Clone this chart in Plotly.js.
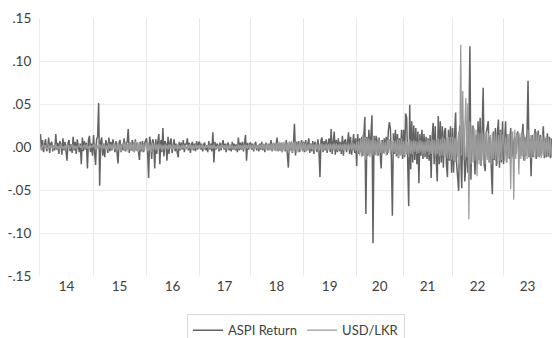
<!DOCTYPE html>
<html>
<head>
<meta charset="utf-8">
<script src="https://cdn.plot.ly/plotly-3.0.1.min.js"></script>
<style>html,body{margin:0;padding:0;background:#fff;}#chart{width:552px;height:338px;}</style>
</head>
<body>
<div id="chart"></div>
<script>
// Year tick labels
const yearLabels = ["14","15","16","17","18","19","20","21","22","23"];

const aspi14 = [0.015,-0.004,0.008,-0.006,0.003,0.009,-0.005,-0.002,0.011,-0.007,0.004,0.006,-0.005,0.002,-0.004,0.015,-0.003,0.005,-0.008,0.007,0.003,-0.009,0.010,-0.004,0.006,-0.006,-0.016,0.005,0.008,-0.005,0.003,-0.007,0.012,-0.004,0.006,-0.008,0.009,0.002,-0.006,0.004,-0.020,0.011,-0.005,0.007,-0.003,0.005,-0.025,0.008,0.013,-0.006,0.004,-0.010];
const aspi15 = [0.014,-0.006,-0.021,0.009,0.012,0.051,-0.045,0.006,0.011,-0.010,0.004,-0.012,0.008,0.003,-0.007,0.011,-0.005,0.006,-0.004,0.009,0.002,-0.006,0.007,-0.003,-0.019,0.005,0.008,-0.006,0.003,-0.004,0.010,-0.005,0.004,0.006,0.021,-0.007,0.005,-0.004,0.008,0.003,-0.006,0.009,-0.004,0.005,-0.003,-0.015,0.006,-0.005,0.007,-0.006,0.004,0.008];
const aspi16 = [0.010,-0.006,-0.036,0.012,0.005,-0.014,0.009,0.004,-0.025,0.009,-0.008,0.006,0.015,-0.020,0.008,-0.006,0.022,-0.011,0.007,0.004,-0.016,0.012,-0.008,0.006,0.010,-0.007,0.003,0.009,-0.005,0.004,-0.006,-0.012,0.006,-0.004,0.005,-0.003,0.008,-0.006,0.004,0.003,0.010,-0.004,0.005,-0.007,0.003,0.006,-0.004,0.004,-0.005,0.007,-0.003,0.005];
const aspi17 = [0.006,-0.003,0.004,-0.005,0.003,0.005,-0.004,0.002,-0.006,0.007,-0.003,0.004,-0.005,0.017,-0.018,0.006,-0.003,0.004,0.002,-0.005,0.005,-0.004,0.003,0.008,-0.003,0.004,-0.006,0.003,0.005,-0.004,0.002,-0.005,0.006,-0.003,0.004,-0.004,0.003,-0.006,0.011,-0.004,0.005,-0.003,0.006,-0.005,0.004,0.014,-0.016,0.005,-0.003,0.004];
const aspi18 = [0.005,-0.003,0.004,-0.005,0.003,0.006,-0.004,0.002,-0.005,0.004,-0.003,0.006,-0.004,0.003,-0.006,0.005,0.002,-0.004,0.004,-0.003,0.008,-0.005,0.003,0.004,-0.004,0.006,0.011,-0.005,0.003,-0.004,0.005,-0.006,0.004,0.003,-0.005,0.008,-0.004,-0.024,0.006,-0.003,0.005,-0.007,0.004,0.027,-0.010,0.006,-0.004,0.007,-0.006,0.005,0.008,-0.005];
const aspi19 = [0.006,-0.006,0.008,-0.004,0.005,0.010,-0.007,0.004,-0.005,0.007,-0.008,0.006,0.003,-0.006,0.009,-0.005,-0.035,0.008,0.011,-0.006,0.007,-0.004,0.009,-0.007,0.005,0.010,-0.006,0.021,-0.008,0.012,0.018,-0.009,0.008,-0.006,0.010,-0.005,0.006,-0.008,0.013,-0.010,0.007,0.009,-0.006,0.005,0.017,-0.008,0.012,-0.009,0.006,0.015,-0.007,0.010];
const aspi20 = [-0.022,0.015,-0.008,0.010,-0.006,0.012,-0.010,0.008,0.035,-0.078,0.012,-0.010,0.020,-0.008,0.016,0.037,-0.112,0.013,-0.009,0.013,0.007,-0.010,0.011,-0.006,-0.025,0.008,-0.007,0.010,-0.005,0.012,-0.009,0.018,0.029,0.022,-0.012,-0.080,0.016,-0.008,0.020,-0.011,0.015,-0.013,0.010,-0.009,0.020,-0.014];
const aspi21 = [0.020,-0.012,0.039,0.034,-0.034,-0.069,0.049,-0.026,0.030,-0.018,0.025,-0.015,0.022,-0.020,0.018,-0.042,0.015,-0.010,0.020,-0.014,0.015,-0.012,0.012,-0.014,0.010,-0.016,0.014,-0.036,0.012,0.028,-0.020,0.024,-0.016,-0.040,0.036,-0.020,0.030,-0.018,0.024,-0.024,0.018,0.022,-0.020,-0.035,0.020,-0.016,0.024,-0.030];
const aspi22 = [0.022,-0.030,0.015,0.040,-0.020,-0.035,-0.051,0.025,-0.018,-0.048,0.030,0.012,-0.040,-0.022,0.020,-0.030,0.018,0.117,-0.038,0.015,0.025,-0.018,-0.032,0.014,-0.020,0.030,-0.015,0.034,-0.022,0.018,0.069,-0.020,-0.028,0.016,0.022,0.030,-0.018,0.012,-0.026,-0.055,0.018,-0.015,0.022,-0.022,0.016,0.032,-0.024,0.020,-0.018,0.030];
const aspi23 = [-0.020,0.012,0.030,-0.018,0.015,-0.010,-0.014,0.022,-0.012,0.010,-0.015,0.012,-0.008,0.014,0.018,-0.014,0.012,-0.010,0.016,0.027,-0.016,0.012,-0.010,0.015,0.077,-0.012,0.010,-0.034,0.014,-0.012,0.008,0.021,-0.014,0.010,0.019,-0.012,0.014,-0.010,0.012,0.024,-0.013,0.010,-0.012,0.016,-0.011,0.012,-0.013,0.010];

// USD/LKR return, per year
const usd14 = [0.002,-0.003,0.001,0.003,-0.002,0.002,-0.001,-0.003,0.003,-0.002,0.001,0.002,-0.003,0.002,-0.001,0.003,-0.002,0.001,-0.003,0.002,0.003,-0.002,0.001,-0.002,0.002,-0.003,0.003,-0.001,0.002,-0.002,0.001,0.003,-0.003,0.002,-0.002,0.001,-0.003,0.002,0.003,-0.001,0.002,-0.003,0.001,0.002,-0.002,0.003,-0.002,0.001,-0.003,0.002,-0.001,0.002];
const usd15 = [0.003,-0.002,0.004,-0.003,0.002,-0.004,0.003,0.001,-0.003,0.004,-0.002,0.003,-0.004,0.002,-0.003,0.004,-0.002,0.003,-0.003,0.002,0.004,-0.003,0.003,-0.004,0.005,-0.003,0.004,-0.005,0.003,0.005,-0.004,0.006,-0.005,0.004,-0.006,0.005,-0.004,0.006,-0.005,0.004,-0.006,0.007,-0.005,0.005,-0.006,0.006,-0.004,0.005,-0.006,0.004,-0.005,0.005];
const usd16 = [0.004,-0.005,0.005,-0.004,0.003,-0.006,0.005,-0.003,0.004,-0.004,0.003,-0.003,0.004,-0.002,0.003,-0.004,0.002,-0.003,0.003,-0.002,0.002,-0.003,0.003,-0.002,0.002,-0.003,0.003,-0.002,0.002,-0.002,0.003,-0.002,0.002,-0.003,0.002,-0.002,0.003,-0.002,0.002,-0.003,0.002,-0.002,0.003,-0.002,0.002,-0.003,0.002,-0.002,0.003,-0.002,0.002,-0.002];
const usd17 = [0.002,-0.002,0.003,-0.002,0.002,-0.003,0.002,-0.001,0.002,-0.002,0.003,-0.002,0.002,-0.002,0.003,-0.002,0.001,-0.002,0.002,-0.003,0.002,-0.002,0.003,-0.001,0.002,-0.002,0.002,-0.003,0.002,-0.002,0.003,-0.002,0.002,-0.002,0.001,-0.003,0.002,-0.002,0.003,-0.002,0.002,-0.002,0.002,-0.003,0.003,-0.002,0.002,-0.002,0.003,-0.002];
const usd18 = [0.003,-0.002,0.002,-0.003,0.003,-0.002,0.002,-0.003,0.003,-0.002,0.003,-0.003,0.004,-0.003,0.003,-0.004,0.004,-0.003,0.004,-0.004,0.004,-0.004,0.005,-0.004,0.004,-0.005,0.005,-0.004,0.006,-0.005,0.005,-0.006,0.006,-0.005,0.007,-0.006,0.005,-0.007,0.006,-0.005,0.007,-0.006,0.006,-0.005,0.006,-0.007,0.005,-0.006,0.006,-0.005,0.005,-0.005];
const usd19 = [0.005,-0.004,0.004,-0.005,0.003,-0.004,0.004,-0.003,0.004,-0.004,0.003,-0.004,0.004,-0.003,0.003,-0.004,0.004,-0.003,0.004,-0.004,0.003,-0.003,0.004,-0.004,0.003,-0.004,0.004,-0.003,0.003,-0.004,0.004,-0.003,0.004,-0.004,0.003,-0.003,0.004,-0.004,0.003,-0.004,0.004,-0.003,0.003,-0.004,0.004,-0.003,0.004,-0.004,0.005,-0.004,0.004,-0.005];
const usd20 = [0.006,-0.008,0.007,-0.010,0.010,-0.012,0.014,-0.010,0.012,-0.015,0.011,-0.009,0.010,-0.012,0.008,-0.010,0.012,-0.009,0.008,-0.010,0.007,-0.008,0.009,-0.007,0.008,-0.009,0.007,-0.008,0.006,-0.010,0.008,-0.007,0.009,-0.008,0.007,-0.009,0.008,-0.006,0.007,-0.008,0.009,-0.012,0.008,-0.010,0.010,-0.009];
const usd21 = [0.007,-0.010,0.008,-0.009,0.006,-0.012,0.009,-0.008,0.007,-0.009,0.008,-0.006,0.007,-0.008,0.006,-0.007,0.008,-0.006,0.007,-0.008,0.006,-0.008,0.007,-0.006,0.008,-0.009,0.007,-0.008,0.009,-0.007,0.008,-0.010,0.009,-0.008,0.010,-0.011,0.009,-0.010,0.012,-0.010,0.010,-0.012,0.011,-0.013,0.012,-0.014,0.012,-0.015];
const usd22 = [0.012,-0.016,0.010,-0.018,0.014,-0.012,0.018,-0.020,0.119,-0.010,0.065,-0.015,0.028,0.057,-0.012,0.051,-0.084,0.030,-0.020,0.025,-0.018,0.022,-0.016,0.020,-0.034,0.018,-0.020,0.016,-0.022,0.018,-0.016,0.015,-0.020,0.018,-0.015,0.016,-0.018,0.014,-0.020,0.016,-0.014,0.018,-0.016,0.015,-0.020,0.014,-0.016,0.018,-0.015,0.014];
const usd23 = [0.014,-0.016,0.012,-0.018,0.015,-0.012,0.016,-0.049,0.015,0.018,-0.061,0.020,-0.014,0.016,0.012,-0.032,0.016,-0.014,0.018,-0.012,0.015,-0.016,0.012,-0.014,0.020,-0.012,0.014,-0.013,0.012,-0.011,0.016,-0.013,0.018,-0.012,0.014,-0.011,0.012,-0.013,0.015,-0.010,0.012,-0.012,0.013,-0.011,0.012,-0.012,0.010,-0.012];

const aspiYears = [aspi14,aspi15,aspi16,aspi17,aspi18,aspi19,aspi20,aspi21,aspi22,aspi23];
const usdYears  = [usd14,usd15,usd16,usd17,usd18,usd19,usd20,usd21,usd22,usd23];

// Observation index axis
const xs = [], ya = [], yu = [], tickPos = [], bounds = [];
let start = 0;
aspiYears.forEach((arr, k) => {
  const n = arr.length;
  for (let i = 0; i < n; i++) { xs.push(start + i); ya.push(arr[i]); yu.push(usdYears[k][i]); }
  tickPos.push(start + (n - 1) / 2);
  if (k > 0) bounds.push(start - 0.5);
  start += n;
});

const yTicks = [-0.15,-0.10,-0.05,0,0.05,0.10,0.15];
const yText = ["-.15","-.10","-.05",".00",".05",".10",".15"];

const traces = [
  {x: xs, y: ya, type: 'scatter', mode: 'lines', name: 'ASPI Return',
   line: {color: '#636363', width: 1.5}},
  {x: xs, y: yu, type: 'scatter', mode: 'lines', name: 'USD/LKR',
   line: {color: '#9b9b9b', width: 1.25}}
];

const layout = {
  width: 552, height: 338,
  margin: {l: 40, r: 0, t: 18, b: 62, autoexpand: false},
  paper_bgcolor: '#fff', plot_bgcolor: '#fff',
  font: {family: 'Lato, "Open Sans", sans-serif', size: 13, color: '#404040'},
  showlegend: true,
  legend: {orientation: 'h', x: 0.5, xanchor: 'center', y: -0.148, yanchor: 'top',
    bordercolor: '#d9d9d9', borderwidth: 1, font: {size: 13, color: '#404040'}},
  xaxis: {range: [-0.5, start - 0.5], tickmode: 'array', tickvals: tickPos, ticktext: yearLabels,
    showgrid: false, zeroline: false, ticks: '', showline: false, fixedrange: true,
    tickfont: {size: 13.5},
    minor: {tickmode: 'array', tickvals: bounds, showgrid: true, gridcolor: '#e9e9e9', gridwidth: 1, ticks: ''}},
  yaxis: {range: [-0.15, 0.15], tickmode: 'array', tickvals: yTicks, ticktext: yText,
    showgrid: true, gridcolor: '#ececec', zeroline: false, ticks: '', ticklabelstandoff: 5,
    showline: true, linecolor: '#ececec', tickfont: {size: 13.5}}
};

Plotly.newPlot('chart', traces, layout, {displayModeBar: false, staticPlot: true});
</script>
</body>
</html>
